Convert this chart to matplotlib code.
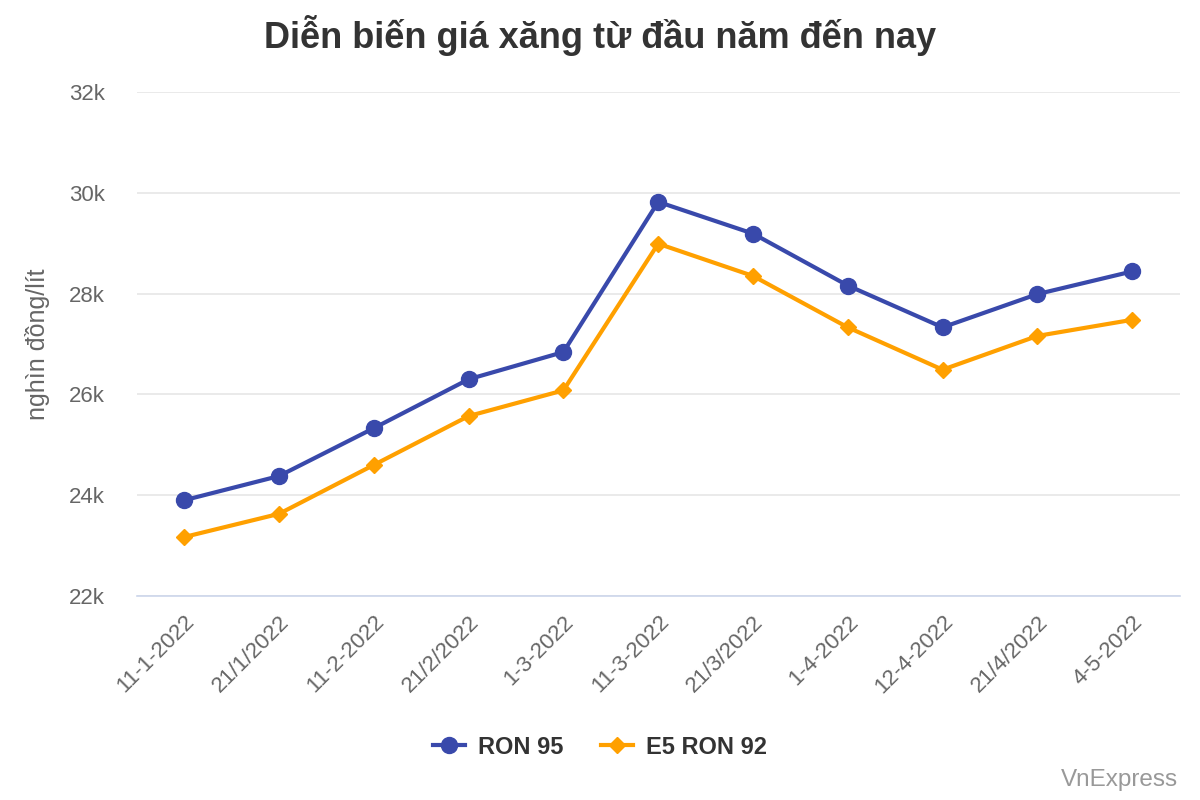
import numpy as np
import matplotlib.pyplot as plt
import matplotlib.transforms as mtransforms
from matplotlib.ticker import FuncFormatter

plt.rcParams['font.family'] = ['Liberation Sans', 'DejaVu Sans']

# Dữ liệu (nghìn đồng/lít)
ngay = ['11-1-2022', '21/1/2022', '11-2-2022', '21/2/2022', '1-3-2022', '11-3-2022',
        '21/3/2022', '1-4-2022', '12-4-2022', '21/4/2022', '4-5-2022']
ron95 = [23900, 24380, 25330, 26300, 26840, 29820, 29190, 28160, 27330, 27990, 28440]
e5ron92 = [23170, 23630, 24600, 25570, 26080, 28990, 28350, 27330, 26490, 27160, 27480]

mau_xanh = '#3949ab'
mau_cam = '#ffa000'

fig = plt.figure(figsize=(12, 8), dpi=100)
ax = fig.add_axes([0.114, 0.255, 0.869, 0.63])

x = np.arange(len(ngay))
ax.plot(x, ron95, color=mau_xanh, lw=3, marker='o', ms=11.5, label='RON 95', zorder=3)
ax.plot(x, e5ron92, color=mau_cam, lw=3, marker='D', ms=8, label='E5 RON 92', zorder=3)

ax.set_xlim(-0.5, len(ngay) - 0.5)
ax.set_ylim(22000, 32000)
ax.set_yticks(np.arange(22000, 32001, 2000))
ax.yaxis.set_major_formatter(FuncFormatter(lambda v, p: f'{int(v / 1000)}k'))
ax.set_xticks(x)
ax.set_xticklabels(ngay, rotation=45, ha='right', rotation_mode='anchor')

# dịch nhãn trục x sang trái một chút
dich = mtransforms.ScaledTranslation(-7 / 100, 0, fig.dpi_scale_trans)
for lb in ax.get_xticklabels():
    lb.set_transform(lb.get_transform() + dich)

ax.grid(axis='y', color='#e6e6e6', lw=1.2)
ax.set_axisbelow(True)
for s in ['top', 'right', 'left']:
    ax.spines[s].set_visible(False)
ax.spines['bottom'].set_color('#ccd6eb')
ax.spines['bottom'].set_linewidth(1.2)
ax.tick_params(axis='both', length=0, labelsize=16, colors='#666666')
ax.tick_params(axis='y', pad=23)
ax.tick_params(axis='x', pad=11)

ax.set_ylabel('nghìn đồng/lít', fontsize=18, color='#666666', labelpad=14)

fig.text(0.5, 0.955, 'Diễn biến giá xăng từ đầu năm đến nay', ha='center', va='center',
         fontsize=26, fontweight='bold', color='#333333')

leg = fig.legend(loc='center', bbox_to_anchor=(0.5, 0.066), ncol=2, frameon=False,
                 prop={'size': 17, 'weight': 'bold'}, handlelength=1.35, columnspacing=1.6,
                 handletextpad=0.55)
for t in leg.get_texts():
    t.set_color('#333333')

fig.text(0.982, 0.025, 'VnExpress', ha='right', va='center', fontsize=17.5, color='#999999')

fig.savefig('out.png', dpi=100)
